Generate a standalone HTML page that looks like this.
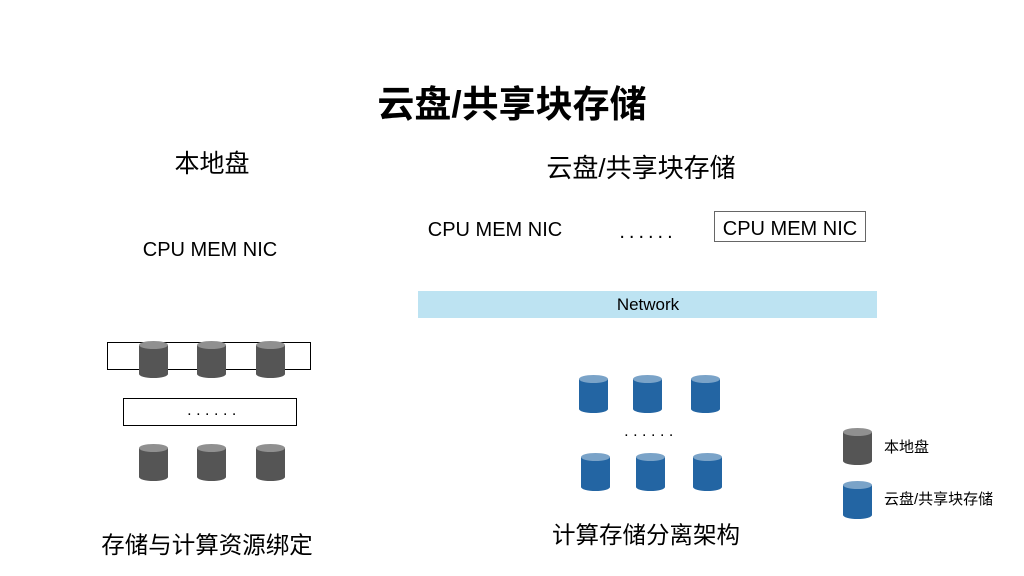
<!DOCTYPE html>
<html><head><meta charset="utf-8"><style>
html,body{margin:0;padding:0;background:#fff;}
svg{display:block;}
text{font-family:"Liberation Sans","Noto Sans CJK SC",sans-serif;fill:#000;}
</style></head><body>
<svg width="1024" height="576" viewBox="0 0 1024 576" xmlns="http://www.w3.org/2000/svg">
<defs>
<g id="g"><path d="M0,4 L0,33 A14.5,4 0 0 0 29,33 L29,4 Z" fill="#555"/><ellipse cx="14.5" cy="4" rx="14.5" ry="4" fill="#909090"/></g>
<g id="b"><path d="M0,4 L0,34 A14.5,4 0 0 0 29,34 L29,4 Z" fill="#2365a3"/><ellipse cx="14.5" cy="4" rx="14.5" ry="4" fill="#7aa3c8"/></g>
</defs>
<text x="512" y="117" font-size="37" font-weight="bold" text-anchor="middle">云盘/共享块存储</text>
<text x="212" y="172" font-size="25" text-anchor="middle">本地盘</text>
<text x="641" y="177" font-size="26" text-anchor="middle">云盘/共享块存储</text>
<text x="210" y="256" font-size="20" text-anchor="middle">CPU MEM NIC</text>
<text x="495" y="236" font-size="20" text-anchor="middle">CPU MEM NIC</text>
<text x="648" y="238" font-size="20" text-anchor="middle" letter-spacing="4">......</text>
<rect x="714.5" y="211.5" width="151" height="30" fill="none" stroke="#666" stroke-width="1"/>
<text x="790" y="235" font-size="20" text-anchor="middle">CPU MEM NIC</text>
<rect x="418" y="291" width="459" height="27" fill="#bde3f2"/>
<text x="648" y="310" font-size="17" text-anchor="middle">Network</text>
<rect x="107.5" y="342.5" width="203" height="27" fill="#fff" stroke="#000"/>
<use href="#g" x="139" y="341"/><use href="#g" x="197" y="341"/><use href="#g" x="256" y="341"/>
<rect x="123.5" y="398.5" width="173" height="27" fill="#fff" stroke="#000"/>
<text x="214" y="415" font-size="16" text-anchor="middle" letter-spacing="4.5">......</text>
<use href="#g" x="139" y="444"/><use href="#g" x="197" y="444"/><use href="#g" x="256" y="444"/>
<use href="#b" x="579" y="375"/><use href="#b" x="633" y="375"/><use href="#b" x="691" y="375"/>
<text x="651" y="436" font-size="16" text-anchor="middle" letter-spacing="4.5">......</text>
<use href="#b" x="581" y="453"/><use href="#b" x="636" y="453"/><use href="#b" x="693" y="453"/>
<use href="#g" x="843" y="428"/>
<use href="#b" x="843" y="481"/>
<text x="884" y="452" font-size="15">本地盘</text>
<text x="884" y="504" font-size="15">云盘/共享块存储</text>
<text x="207" y="553" font-size="23.5" text-anchor="middle">存储与计算资源绑定</text>
<text x="646" y="543" font-size="23.5" text-anchor="middle">计算存储分离架构</text>
</svg>
</body></html>
